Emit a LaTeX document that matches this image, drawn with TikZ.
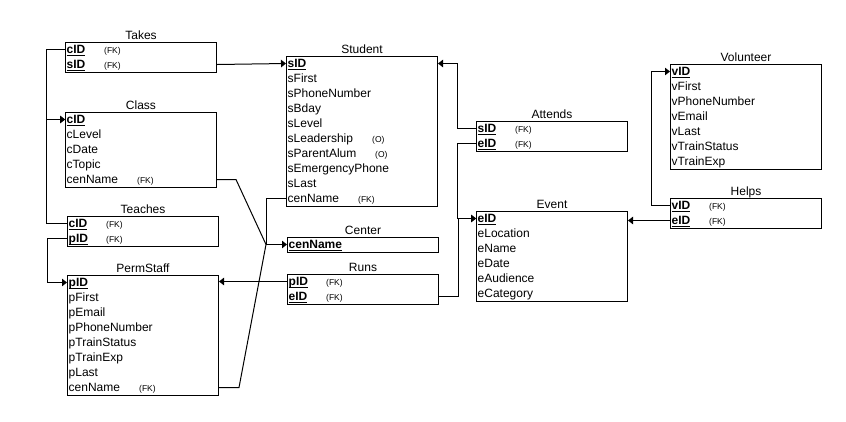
\documentclass[tikz,border=0pt]{standalone}
\usepackage{fontspec}
\setmainfont{Liberation Sans}
\usetikzlibrary{arrows.meta}
\newsavebox{\pkbox}
\newcommand{\pk}[1]{\sbox{\pkbox}{\textbf{#1}}\rlap{\rule[-2.2pt]{\wd\pkbox}{1pt}}\usebox{\pkbox}}
\newcommand{\tagged}[3]{\makebox[#2pt][l]{#1}{\fontsize{8.5}{9}\selectfont(#3)}}
\tikzset{
  tbl/.style={draw=black, line width=1pt, anchor=north west, minimum width=151pt, inner sep=0pt},
  ttl/.style={font=\fontsize{12}{14}\selectfont, anchor=base, yshift=2.5pt, inner sep=0pt},
  row/.style={anchor=west, inner xsep=1.5pt, inner ysep=0pt, text height=8.6pt, text depth=0pt, font=\fontsize{12}{14}\selectfont},
  link/.style={draw=black, line width=1pt},
  linkto/.style={link, -{Triangle[length=5pt,width=7.5pt]}},
}
\begin{document}
\begin{tikzpicture}[x=1pt,y=-1pt]
  \useasboundingbox (0,0) rectangle (846,421);
  % Takes
  \node[tbl, minimum height=30pt] (takes) at (65,42) {};
  \node[ttl] at (takes.north) {Takes};
  \node[row] (takes-cID) at (65,49.5) {\tagged{\pk{cID}}{37.5}{FK}};
  \node[row] (takes-sID) at (65,64.5) {\tagged{\pk{sID}}{37.5}{FK}};
  % Class
  \node[tbl, minimum height=75pt] (class) at (65,112) {};
  \node[ttl] at (class.north) {Class};
  \node[row] (class-cID) at (65,119.5) {\pk{cID}};
  \foreach \f [count=\i] in {cLevel,cDate,cTopic}
    \node[row] (class-\f) at (65,119.5+15*\i) {\f};
  \node[row] (class-cenName) at (65,179.5) {\tagged{cenName}{70.5}{FK}};
  % Teaches
  \node[tbl, minimum height=30pt] (teaches) at (67,216) {};
  \node[ttl] at (teaches.north) {Teaches};
  \node[row] (teaches-cID) at (67,223.5) {\tagged{\pk{cID}}{37.5}{FK}};
  \node[row] (teaches-pID) at (67,238.5) {\tagged{\pk{pID}}{37.5}{FK}};
  % PermStaff
  \node[tbl, minimum height=120pt] (perm) at (67,275) {};
  \node[ttl] at (perm.north) {PermStaff};
  \node[row] (perm-pID) at (67,282.5) {\pk{pID}};
  \foreach \f [count=\i] in {pFirst,pEmail,pPhoneNumber,pTrainStatus,pTrainExp,pLast}
    \node[row] (perm-\f) at (67,282.5+15*\i) {\f};
  \node[row] (perm-cenName) at (67,387.5) {\tagged{cenName}{70.5}{FK}};
  % Student
  \node[tbl, minimum height=150pt] (student) at (286,56) {};
  \node[ttl] at (student.north) {Student};
  \node[row] (student-sID) at (286,63.5) {\pk{sID}};
  \foreach \f [count=\i] in {sFirst,sPhoneNumber,sBday,sLevel}
    \node[row] (student-\f) at (286,63.5+15*\i) {\f};
  \node[row] (student-sLeadership) at (286,138.5) {\tagged{sLeadership}{84.5}{O}};
  \node[row] (student-sParentAlum) at (286,153.5) {\tagged{sParentAlum}{87.5}{O}};
  \node[row] (student-sEmergencyPhone) at (286,168.5) {sEmergencyPhone};
  \node[row] (student-sLast) at (286,183.5) {sLast};
  \node[row] (student-cenName) at (286,198.5) {\tagged{cenName}{70.5}{FK}};
  % Center
  \node[tbl, minimum height=15pt] (center) at (287,237) {};
  \node[ttl] at (center.north) {Center};
  \node[row] (center-cenName) at (287,244.5) {\pk{cenName}};
  % Runs
  \node[tbl, minimum height=30pt] (runs) at (287,274) {};
  \node[ttl] at (runs.north) {Runs};
  \node[row] (runs-pID) at (287,281.5) {\tagged{\pk{pID}}{37.5}{FK}};
  \node[row] (runs-eID) at (287,296.5) {\tagged{\pk{eID}}{37.5}{FK}};
  % Attends
  \node[tbl, minimum height=30pt] (attends) at (476,121) {};
  \node[ttl] at (attends.north) {Attends};
  \node[row] (attends-sID) at (476,128.5) {\tagged{\pk{sID}}{37.5}{FK}};
  \node[row] (attends-eID) at (476,143.5) {\tagged{\pk{eID}}{37.5}{FK}};
  % Event
  \node[tbl, minimum height=90pt] (event) at (476,211) {};
  \node[ttl] at (event.north) {Event};
  \node[row] (event-eID) at (476,218.5) {\pk{eID}};
  \foreach \f [count=\i] in {eLocation,eName,eDate,eAudience,eCategory}
    \node[row] (event-\f) at (476,218.5+15*\i) {\f};
  % Volunteer
  \node[tbl, minimum height=105pt] (vol) at (670,64) {};
  \node[ttl] at (vol.north) {Volunteer};
  \node[row] (vol-vID) at (670,71.5) {\pk{vID}};
  \foreach \f [count=\i] in {vFirst,vPhoneNumber,vEmail,vLast,vTrainStatus,vTrainExp}
    \node[row] (vol-\f) at (670,71.5+15*\i) {\f};
  % Helps
  \node[tbl, minimum height=30pt] (helps) at (670,198) {};
  \node[ttl] at (helps.north) {Helps};
  \node[row] (helps-vID) at (670,205.5) {\tagged{\pk{vID}}{37.5}{FK}};
  \node[row] (helps-eID) at (670,220.5) {\tagged{\pk{eID}}{37.5}{FK}};

  % foreign keys
  \coordinate (cbus) at (46,0);
  \coordinate (cenhub) at (266,244.5);
  \draw[linkto] (takes-cID.west) -- (takes-cID.west -| cbus) |- (class-cID.west);
  \draw[linkto] (teaches-cID.west) -- (teaches-cID.west -| cbus) |- (class-cID.west);
  \draw[linkto] (takes.east |- takes-sID) -- (student-sID.west);
  \draw[linkto] (teaches-pID.west) -- ++(-20,0) |- (perm-pID.west);
  \draw[link] (class.east |- class-cenName) -- ++(19,0) -- (cenhub);
  \draw[link] (perm.east |- perm-cenName) -- ++(20,0) -- (cenhub);
  \draw[link] (student-cenName.west) -| (cenhub);
  \draw[linkto] (cenhub) -- (center-cenName.west);
  \draw[linkto] (runs-pID.west) -- (perm.east |- runs-pID);
  \draw[linkto] (runs.east |- runs-eID) -- ++(19,0) |- (event-eID.west);
  \draw[linkto] (attends-sID.west) -- ++(-19,0) |- (student.east |- student-sID);
  \draw[linkto] (attends-eID.west) -- ++(-19,0) |- (event-eID.west);
  \draw[linkto] (helps-vID.west) -- ++(-19,0) |- (vol-vID.west);
  \draw[linkto] (helps-eID.west) -- (event.east |- helps-eID);
\end{tikzpicture}
\end{document}
